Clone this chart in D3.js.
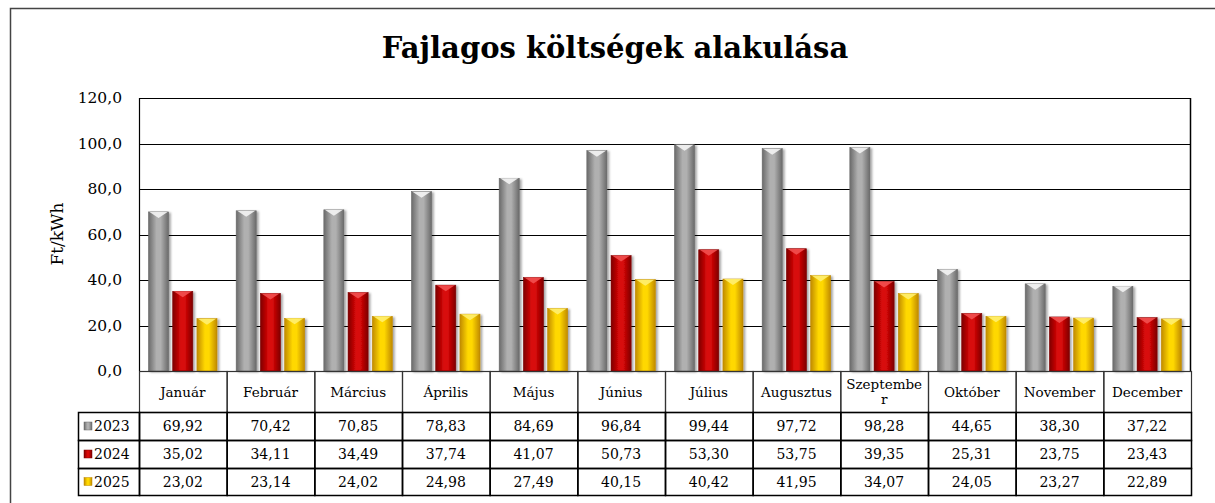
<!DOCTYPE html>
<html>
<head>
<meta charset="utf-8">
<script src="https://d3js.org/d3.v7.min.js"></script>
<style>
  body { margin: 0; background: #fff; }
  text { font-family: "DejaVu Serif", Georgia, serif; fill: #000; }
</style>
</head>
<body>
<div id="chart"></div>
<script>
// data
const months = ["Január","Február","Március","Április","Május","Június","Július","Augusztus","Szeptember","Október","November","December"]
const years = ["2023","2024","2025"]
const v2023 = [69.92,70.42,70.85,78.83,84.69,96.84,99.44,97.72,98.28,44.65,38.30,37.22]
const v2024 = [35.02,34.11,34.49,37.74,41.07,50.73,53.30,53.75,39.35,25.31,23.75,23.43]
const v2025 = [23.02,23.14,24.02,24.98,27.49,40.15,40.42,41.95,34.07,24.05,23.27,22.89]
const yTicks = [0,20,40,60,80,100,120]

const series = [v2023, v2024, v2025]

width = 1215
height = 503
const pLeft = 139, pRight = 1191, pTop = 98, pBottom = 371

const loc = d3.formatLocale({decimal: ",", thousands: " ", grouping: [3], currency: ["", ""]})
const fmt1 = loc.format(".1f")
const fmt2 = loc.format(".2f")

svg = d3.select('#chart')
  .append('svg')
  .attr('width', width)
  .attr('height', height)

// gradients for the bevelled bars
const cols = {
  "2023": {edge: "#6a6a6a", mid: "#b0b0b0", cap: "#f4f4f4"},
  "2024": {edge: "#7e0000", mid: "#d80808", cap: "#f25050"},
  "2025": {edge: "#c08a00", mid: "#ffd800", cap: "#fff070"}
}
defs = svg.append('defs')
years.forEach(function(y){
  const g = defs.append('linearGradient').attr('id', 'g' + y)
    .attr('x1', '0').attr('x2', '1').attr('y1', '0').attr('y2', '0')
  g.append('stop').attr('offset', '0%').attr('stop-color', cols[y].edge)
  g.append('stop').attr('offset', '40%').attr('stop-color', cols[y].mid)
  g.append('stop').attr('offset', '60%').attr('stop-color', cols[y].mid)
  g.append('stop').attr('offset', '100%').attr('stop-color', cols[y].edge)
})
const sh = defs.append('filter').attr('id', 'shadow')
  .attr('x', '-30%').attr('y', '-10%').attr('width', '160%').attr('height', '130%')
sh.append('feDropShadow').attr('dx', 2).attr('dy', 1).attr('stdDeviation', 1.2)
  .attr('flood-color', '#000').attr('flood-opacity', 0.35)

// outer frame
svg.append('rect')
  .attr('x', 10.5).attr('y', 8.5)
  .attr('width', 1220).attr('height', 520)
  .attr('fill', 'none').attr('stroke', '#444').attr('stroke-width', 1.5)

// title
svg.append('text')
  .attr('x', 615).attr('y', 58)
  .attr('text-anchor', 'middle')
  .attr('font-size', 29)
  .attr('font-weight', 'bold')
  .text('Fajlagos költségek alakulása')

// scales
yScale = d3.scaleLinear().domain([0, 120]).range([pBottom, pTop])
x0 = d3.scaleBand().domain(months).range([pLeft, pRight])
x1 = d3.scaleBand().domain(years).range([9.5, 78]).paddingInner(0.17)

// grid lines
svg.append('g').selectAll('line')
  .data(yTicks)
  .enter().append('line')
  .attr('x1', pLeft).attr('x2', pRight)
  .attr('y1', d => Math.round(yScale(d)) + 0.5)
  .attr('y2', d => Math.round(yScale(d)) + 0.5)
  .attr('stroke', '#000').attr('stroke-width', 1.2)

svg.append('line')
  .attr('x1', pLeft + 0.5).attr('x2', pLeft + 0.5)
  .attr('y1', pTop).attr('y2', pBottom)
  .attr('stroke', '#000').attr('stroke-width', 1.2)
svg.append('line')
  .attr('x1', pRight - 0.5).attr('x2', pRight - 0.5)
  .attr('y1', pTop).attr('y2', pBottom)
  .attr('stroke', '#000').attr('stroke-width', 1.5)

// y tick labels
svg.append('g').selectAll('text')
  .data(yTicks)
  .enter().append('text')
  .attr('x', 122)
  .attr('y', d => yScale(d))
  .attr('dy', '0.35em')
  .attr('text-anchor', 'end')
  .attr('font-size', 15.5)
  .text(d => fmt1(d))

svg.append('text')
  .attr('transform', 'translate(57,234) rotate(-90)')
  .attr('text-anchor', 'middle')
  .attr('dy', '0.35em')
  .attr('font-size', 17)
  .text('Ft/kWh')

// bars
const bars = []
series.forEach(function(s, si){
  s.forEach(function(v, mi){
    bars.push({month: months[mi], year: years[si], value: v})
  })
})

barG = svg.selectAll('.bar')
  .data(bars)
  .enter().append('g')
  .attr('class', 'bar')
  .attr('transform', d => 'translate(' + (x0(d.month) + x1(d.year)) + ',0)')

barG.append('rect')
  .attr('x', 0)
  .attr('y', d => yScale(d.value))
  .attr('width', x1.bandwidth())
  .attr('height', d => pBottom - yScale(d.value))
  .attr('fill', d => 'url(#g' + d.year + ')')
  .attr('stroke', d => cols[d.year].edge)
  .attr('stroke-width', 0.6)
  .attr('filter', 'url(#shadow)')

// bevel cap on top of each bar
barG.append('path')
  .attr('d', function(d){
    const w = x1.bandwidth(), y = yScale(d.value)
    return 'M1,' + y + 'L' + (w - 1) + ',' + y + 'L' + (w / 2) + ',' + (y + 6) + 'Z'
  })
  .attr('fill', d => cols[d.year].cap)
  .attr('opacity', 0.9)

// data table
const rowY = [371, 412, 440, 468, 495]
const tab = svg.append('g')

// header cells (months)
tab.selectAll('.hcell')
  .data(months)
  .enter().append('rect')
  .attr('class', 'hcell')
  .attr('x', d => x0(d) + 0.5)
  .attr('y', rowY[0] + 0.5)
  .attr('width', x0.bandwidth())
  .attr('height', rowY[1] - rowY[0])
  .attr('fill', 'none')
  .attr('stroke', '#333')
  .attr('stroke-width', 1.2)

tab.selectAll('.hlabel')
  .data(months)
  .enter().append('text')
  .attr('class', 'hlabel')
  .attr('x', d => x0(d) + x0.bandwidth() / 2)
  .attr('y', 397)
  .attr('text-anchor', 'middle')
  .attr('font-size', 13.5)
  .each(function(d){
    const t = d3.select(this)
    t.text(d)
    const maxW = x0.bandwidth() - 8
    if (this.getComputedTextLength() > maxW) {
      let cut = d.length
      t.text(d.slice(0, cut))
      while (cut > 1 && this.getComputedTextLength() > maxW) {
        cut--
        t.text(d.slice(0, cut))
      }
      t.text(null)
      t.attr('y', 389)
      t.append('tspan').attr('x', x0(d) + x0.bandwidth() / 2).text(d.slice(0, cut))
      t.append('tspan').attr('x', x0(d) + x0.bandwidth() / 2).attr('dy', 15).text(d.slice(cut))
    }
  })

// value rows
years.forEach(function(y, si){
  const r0 = rowY[si + 1], r1 = rowY[si + 2]
  const row = tab.append('g')
  row.append('rect')
    .attr('x', 78.5).attr('y', r0 + 0.5)
    .attr('width', pLeft - 78).attr('height', r1 - r0)
    .attr('fill', 'none').attr('stroke', '#000').attr('stroke-width', 1.5)
  row.selectAll('.vcell')
    .data(series[si])
    .enter().append('rect')
    .attr('x', (d, i) => x0(months[i]) + 0.5)
    .attr('y', r0 + 0.5)
    .attr('width', x0.bandwidth())
    .attr('height', r1 - r0)
    .attr('fill', 'none')
    .attr('stroke', '#000')
    .attr('stroke-width', 1.5)
  row.selectAll('.vtext')
    .data(series[si])
    .enter().append('text')
    .attr('x', (d, i) => x0(months[i]) + x0.bandwidth() / 2)
    .attr('y', (r0 + r1) / 2)
    .attr('dy', '0.36em')
    .attr('text-anchor', 'middle')
    .attr('font-size', 14)
    .text(d => fmt2(d))
  // legend key
  row.append('rect')
    .attr('x', 84).attr('y', (r0 + r1) / 2 - 4)
    .attr('width', 8).attr('height', 8)
    .attr('fill', 'url(#g' + y + ')')
    .attr('stroke', cols[y].edge).attr('stroke-width', 0.5)
  row.append('text')
    .attr('x', 94).attr('y', (r0 + r1) / 2)
    .attr('dy', '0.36em')
    .attr('font-size', 14)
    .text(y)
})
</script>
</body>
</html>
